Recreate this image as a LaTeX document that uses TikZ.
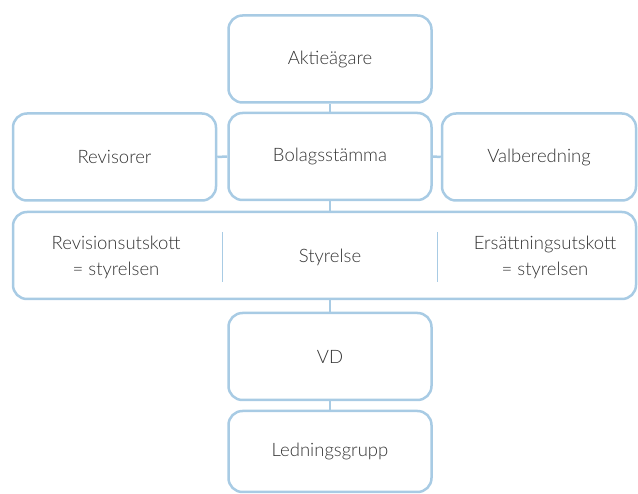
\documentclass[tikz,border=0pt]{standalone}
\usepackage{fontspec}
\setmainfont{Lato Light}
\definecolor{lineblue}{HTML}{A8CBE4}
\definecolor{textgray}{HTML}{333333}
\begin{document}
\begin{tikzpicture}[x=1pt,y=-1pt,
  box/.style={draw=lineblue, line width=2.5pt, rounded corners=14pt, text=textgray,
    font=\fontsize{18.5}{26}\selectfont, align=center, inner sep=0pt,
    minimum width=203pt, minimum height=87pt},
  lbl/.style={text=textgray, font=\fontsize{18.5}{26}\selectfont, align=center, inner sep=0pt},
  conn/.style={draw=lineblue, line width=2.5pt},
  divider/.style={draw=lineblue, line width=1pt}]
\useasboundingbox (0,0) rectangle (638,494);
\node[box] (akt) at (330,59) {Aktieägare};
\node[box] (bol) at (330,156.5) {Bolagsstämma};
\node[box] (rev) at (114.5,157) {Revisorer};
\node[box, minimum width=194pt] (val) at (539,157) {Valberedning};
\node[box, minimum width=623pt] (sty) at (324.5,255.5) {};
\node[box] (vd) at (330,356.5) {VD};
\node[box, minimum height=81pt] (led) at (330,451.5) {Ledningsgrupp};
\node[lbl] (revut) at (116,257) {Revisionsutskott\\= styrelsen};
\node[lbl] (styl) at (330,257) {Styrelse};
\node[lbl] (ersut) at (545,257) {Ersättningsutskott\\= styrelsen};
\coordinate (d1t) at (222,232);
\coordinate (d1b) at (222,282);
\coordinate (d2t) at (437,232);
\coordinate (d2b) at (437,282);
\draw[divider] (d1t) -- (d1b);
\draw[divider] (d2t) -- (d2b);
\draw[conn] (akt.south) -- (bol.north);
\draw[conn] (rev.east) -- (bol.west);
\draw[conn] (bol.east) -- (val.west);
\draw[conn] (bol.south) -- (bol.south |- sty.north);
\draw[conn] (vd.north |- sty.south) -- (vd.north);
\draw[conn] (vd.south) -- (led.north);
\end{tikzpicture}
\end{document}
